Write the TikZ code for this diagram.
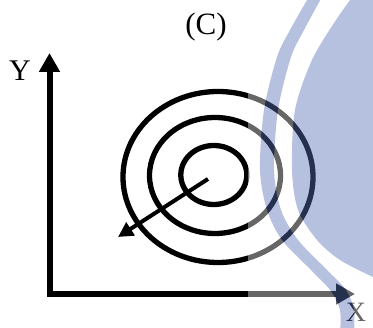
\documentclass[tikz,border=0pt]{standalone}
\usepackage{fontspec}
\setmainfont{Liberation Serif}
\usetikzlibrary{arrows.meta}
\definecolor{wmblue}{RGB}{86,112,184}
\begin{document}
\begin{tikzpicture}[x=1pt,y=-1pt,
  axes/.style={line width=6pt, line join=miter,
    {Triangle[length=19pt,width=20pt]}-{Triangle[length=19pt,width=20pt]}},
  ring/.style={line width=5.3pt},
  ptr/.style={line width=4pt, -{Triangle[length=15pt,width=15pt]}},
  lbl/.style={inner sep=0pt, text=black}]
\useasboundingbox (0,0) rectangle (373,328);
% labels
\node[lbl, font=\fontsize{31}{31}\selectfont] (title) at (206,27) {(C)};
\node[lbl, font=\fontsize{30}{30}\selectfont] (Y) at (20,71) {Y};
\node[lbl, font=\fontsize{28}{28}\selectfont] (X) at (356,312) {X};
% axes
\coordinate (ytip) at (49.5,53);
\coordinate (O) at (49.5,294);
\coordinate (xtip) at (355,294);
\draw[axes] (ytip) -- (O) -- (xtip);
% contour rings
\draw[ring] (218,177) ellipse [x radius=95, y radius=85.5];
\draw[ring] (215,175.5) ellipse [x radius=65.5, y radius=58];
\draw[ring] (213.8,175) ellipse [x radius=33, y radius=29.5];
% gradient arrow
\coordinate (c) at (208,179);
\coordinate (a) at (118,237);
\draw[ptr] (c) -- (a);
% watermark
\begin{scope}
\clip (0,0) rectangle (373,328);
\fill[white, fill opacity=0.4, even odd rule]
  (248,-2) rectangle (375,330)
  plot[smooth] coordinates {(356,-8) (336,20) (312,60) (295,110) (292,170) (298,210) (317,240) (340,260) (373,277) (385,281)}
  -- (385,-8) -- cycle
  plot[smooth] coordinates {(310,-5) (290,30) (277,57) (264,110) (260,170) (267,210) (282,240) (311,270) (330,290) (340,310) (340,335)}
  -- plot[smooth] coordinates {(354,335) (354,310) (346,290) (327,270) (298,240) (281,210) (274,170) (278,110) (291,57) (304,30) (323,-5)}
  -- cycle;
\fill[wmblue, fill opacity=0.43]
  plot[smooth] coordinates {(356,-8) (336,20) (312,60) (295,110) (292,170) (298,210) (317,240) (340,260) (373,277) (385,281)}
  -- (385,-8) -- cycle
  plot[smooth] coordinates {(310,-5) (290,30) (277,57) (264,110) (260,170) (267,210) (282,240) (311,270) (330,290) (340,310) (340,335)}
  -- plot[smooth] coordinates {(354,335) (354,310) (346,290) (327,270) (298,240) (281,210) (274,170) (278,110) (291,57) (304,30) (323,-5)}
  -- cycle;
\end{scope}
\end{tikzpicture}
\end{document}
